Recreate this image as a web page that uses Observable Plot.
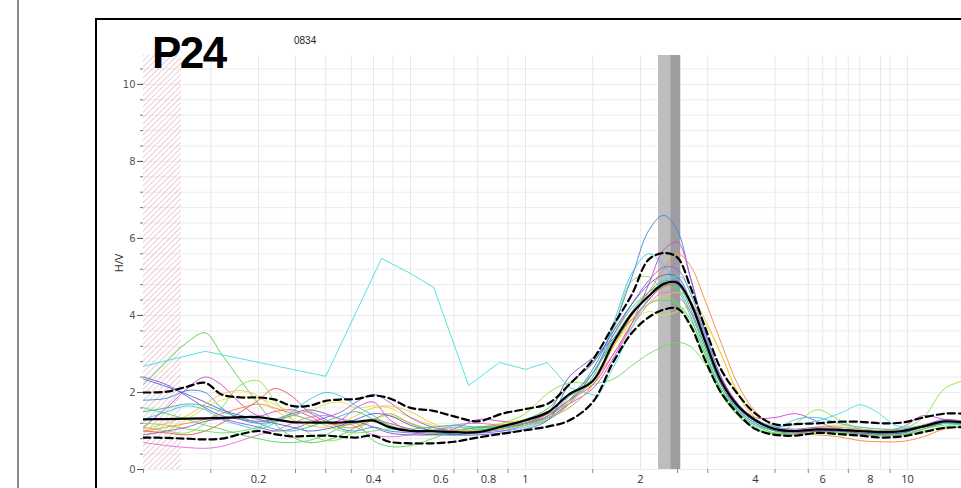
<!DOCTYPE html>
<html><head><meta charset="utf-8">
<script src="https://cdn.jsdelivr.net/npm/d3@7"></script>
<script src="https://cdn.jsdelivr.net/npm/@observablehq/plot@0.6"></script>
<style>
html,body{margin:0;padding:0;background:#fff;overflow:hidden;}
#wrap{position:relative;width:961px;height:488px;overflow:hidden;}
#wrap svg{position:absolute;left:0;top:0;}
#frame{position:absolute;left:95px;top:18px;width:1000px;height:600px;border-left:2px solid #000;border-top:2px solid #000;pointer-events:none;}
#leftbar{position:absolute;left:17px;top:0;width:2px;height:488px;background:#8a8a8a;}
</style></head><body><div id="wrap"></div>
<script>
// ---- data ----
const freq = [0.1,0.115,0.13,0.145,0.16,0.18,0.2,0.22,0.245,0.27,0.3,0.33,0.36,0.4,0.44,0.5,0.57,0.65,0.75,0.87,1.0,1.15,1.3,1.5,1.7,1.9,2.1,2.3,2.5,2.7,2.95,3.25,3.6,4.0,4.5,5.1,5.8,6.6,7.5,8.5,9.7,11,12.5,14];
const meanHV = [1.3,1.31,1.32,1.33,1.34,1.36,1.36,1.3,1.23,1.22,1.22,1.22,1.24,1.27,1.1,1.0,1.0,0.97,0.97,1.12,1.28,1.5,1.95,2.3,3.3,4.05,4.5,4.82,4.85,4.35,3.35,2.3,1.65,1.28,1.05,1.0,1.04,1.03,1.0,0.97,1.0,1.12,1.25,1.22];
const upperHV = [2.0,2.02,2.15,2.25,1.95,1.87,1.87,1.82,1.65,1.65,1.78,1.82,1.83,1.92,1.85,1.6,1.53,1.38,1.25,1.45,1.57,1.72,2.2,2.85,3.75,4.55,5.45,5.62,5.5,4.75,3.7,2.6,1.95,1.45,1.17,1.18,1.2,1.24,1.24,1.2,1.22,1.35,1.45,1.45];
const lowerHV = [0.83,0.82,0.8,0.78,0.8,0.92,1.0,0.92,0.86,0.87,0.88,0.85,0.83,0.88,0.72,0.68,0.68,0.72,0.83,0.93,1.02,1.12,1.27,1.75,2.8,3.55,3.95,4.15,4.18,3.75,2.85,2.0,1.45,1.05,0.9,0.88,0.95,0.92,0.88,0.83,0.86,0.97,1.08,1.1];

const wGreen = [2.2,2.8,3.3,3.55,3.0,2.3,1.7,1.2,0.85,0.7,0.75,0.9,1.1,1.3,1.15,1.0,0.95,0.9,1.0,1.15,1.3,1.6,2.2,2.8,3.5,4.2,4.6,4.8,4.7,4.1,3.1,2.1,1.5,1.15,0.95,0.95,1.0,1.0,0.98,0.95,1.0,1.15,1.25,1.2];
const wLime = [1.1,1.0,0.95,1.2,1.6,2.2,2.3,1.8,1.3,0.95,0.75,0.8,1.0,1.3,1.4,1.2,1.05,1.0,1.05,1.2,1.45,2.0,2.25,2.3,3.6,4.9,5.0,4.6,4.3,3.8,2.9,1.95,1.4,1.05,0.95,1.2,1.55,1.3,1.05,1.0,1.05,1.35,2.1,2.3];
const wBlue = [1.8,1.85,2.05,2.0,1.6,1.3,1.2,1.25,1.4,1.5,1.3,1.05,1.0,1.1,1.0,0.95,0.9,0.9,0.95,1.05,1.2,1.4,1.8,2.6,3.7,5.0,6.2,6.6,6.2,5.0,3.6,2.4,1.65,1.25,1.05,1.0,1.05,1.05,1.0,0.95,0.98,1.1,1.2,1.2];
const wMagenta = [1.1,1.6,2.1,2.4,2.2,1.7,1.4,1.5,1.55,1.4,1.2,1.3,1.6,1.75,1.3,1.0,0.95,1.05,1.3,1.25,1.2,1.35,1.7,2.1,2.9,3.8,4.8,5.7,5.9,5.0,3.6,2.4,1.7,1.35,1.35,1.45,1.25,1.05,1.0,1.0,1.1,1.4,1.3,1.25];
const wOrange = [1.0,1.1,1.2,1.3,1.45,1.6,1.7,1.6,1.45,1.3,1.2,1.1,1.1,1.3,1.45,1.2,1.0,0.95,1.0,1.1,1.2,1.35,1.6,2.2,3.2,4.0,4.6,5.2,5.6,5.3,4.4,3.3,2.2,1.5,1.1,0.95,0.9,0.85,0.75,0.72,0.73,0.85,1.05,1.1];
const wYellow = [0.9,1.0,1.3,1.6,1.8,1.9,1.85,1.7,1.5,1.5,1.7,1.75,1.6,1.65,1.6,1.35,1.15,1.0,1.1,1.2,1.3,1.45,1.8,2.4,3.2,3.8,4.1,4.0,4.1,4.2,3.8,3.0,1.95,1.3,1.05,1.0,1.1,1.15,1.1,1.05,1.05,1.15,1.2,1.2];
const wPurple = [2.4,2.2,1.9,1.6,1.4,1.3,1.25,1.3,1.45,1.55,1.45,1.3,1.25,1.1,0.95,0.9,0.9,0.95,1.0,1.05,1.2,1.5,2.4,2.9,3.4,3.9,4.4,4.8,4.9,4.3,3.3,2.2,1.55,1.2,1.0,0.95,1.0,1.0,0.95,0.92,0.95,1.1,1.2,1.2];
const wRed = [1.0,0.95,0.9,1.0,1.2,1.5,1.8,2.1,1.9,1.5,1.25,1.15,1.2,1.3,1.2,1.05,0.95,1.0,1.1,1.15,1.25,1.45,1.8,2.2,3.0,3.8,4.4,4.75,4.8,4.4,3.5,2.4,1.7,1.3,1.05,0.98,1.0,0.98,0.92,0.88,0.9,1.05,1.2,1.22];
const wSky = [1.3,1.5,1.65,1.55,1.3,1.15,1.05,1.2,1.5,1.8,2.0,1.9,1.65,1.4,1.15,1.0,1.0,1.1,1.05,1.0,1.1,1.3,1.7,2.4,3.8,5.1,5.6,5.3,4.7,4.0,3.0,2.1,1.5,1.15,1.05,1.3,1.35,1.2,1.1,1.05,1.05,1.15,1.2,1.15];
const wPink = [0.7,0.62,0.57,0.55,0.6,0.75,0.9,1.0,1.2,1.35,1.4,1.3,1.1,0.9,0.85,0.9,1.0,1.15,1.2,1.15,1.2,1.4,1.8,2.3,3.0,3.7,4.3,4.6,4.5,4.1,3.2,2.2,1.6,1.25,1.05,1.0,1.05,1.05,1.0,0.95,1.0,1.15,1.25,1.2];
const wGreen2 = [1.6,1.45,1.3,1.15,1.05,0.9,0.8,0.72,0.7,0.75,0.9,1.1,1.2,0.75,0.6,0.62,0.8,1.0,1.1,1.1,1.15,1.3,1.7,2.5,3.3,3.9,4.3,4.4,4.3,3.9,3.0,2.0,1.4,1.05,0.92,0.9,0.95,0.95,0.9,0.88,0.9,1.0,1.1,1.1];
const wGreen3 = [1.2,1.15,1.05,1.0,0.95,1.0,1.1,1.25,1.4,1.3,1.15,1.0,0.95,1.0,1.05,1.0,0.95,0.95,1.05,1.15,1.25,1.5,1.9,2.2,2.35,2.7,3.0,3.2,3.3,3.2,2.75,2.1,1.5,1.1,0.92,0.92,0.95,0.97,0.95,0.9,0.92,1.05,1.15,1.15];
const wViolet = [0.9,1.0,1.1,1.25,1.3,1.2,1.1,1.0,1.05,1.2,1.35,1.5,1.75,1.95,1.75,1.35,1.1,1.0,0.95,1.0,1.15,1.35,1.75,2.5,3.5,4.3,4.9,5.25,5.2,4.6,3.5,2.4,1.7,1.3,1.1,1.05,1.1,1.1,1.05,1.0,1.0,1.15,1.3,1.25];
const wNavy = [2.35,2.15,1.95,1.75,1.55,1.4,1.3,1.2,1.1,1.0,1.05,1.15,1.3,1.45,1.4,1.15,1.0,0.9,0.9,0.95,1.05,1.3,2.2,2.75,3.6,4.3,4.8,5.05,5.0,4.4,3.4,2.3,1.6,1.25,1.05,1.0,1.0,1.0,0.95,0.92,0.95,1.1,1.2,1.2];
const wGold = [1.05,1.2,1.4,1.7,1.95,2.05,1.9,1.55,1.3,1.15,1.1,1.2,1.4,1.6,1.65,1.5,1.2,1.05,1.0,1.05,1.15,1.35,1.75,2.3,3.2,3.9,4.3,4.5,4.6,4.5,3.9,3.0,2.0,1.35,1.05,1.0,1.05,1.1,1.05,1.0,1.02,1.15,1.25,1.25];
const wTeal = [1.5,1.6,1.7,1.65,1.5,1.35,1.2,1.05,1.0,1.1,1.25,1.4,1.5,1.3,1.1,1.05,1.1,1.15,1.1,1.1,1.2,1.4,1.9,2.5,3.4,4.1,4.6,4.9,4.8,4.2,3.2,2.2,1.55,1.2,1.0,1.0,1.05,1.05,1.0,0.97,1.0,1.1,1.2,1.18];

// outlier window: sparse straight segments at low frequency, smooth above
const cyanFreqLow = [0.1,0.145,0.3,0.42,0.5,0.575,0.71,0.855,1.0,1.14,1.3,1.55];
const cyanHVLow = [2.68,3.07,2.42,5.48,5.09,4.73,2.18,2.78,2.6,2.78,2.13,1.9];
const cyanFreqHigh = [1.55,1.75,1.95,2.15,2.35,2.55,2.75,3.0,3.3,3.6,4.0,4.5,5.2,6.0,6.8,7.5,8.3,9.3,10.5,12,14];
const cyanHVHigh = [1.9,2.9,3.9,4.6,4.95,5.0,4.4,3.3,2.2,1.6,1.3,1.12,1.18,1.3,1.5,1.68,1.5,1.15,1.1,1.2,1.15];

const windows = [wGreen,wLime,wBlue,wMagenta,wOrange,wYellow,wPurple,wRed,wSky,wPink,wGreen2,wGreen3,wViolet,wNavy,wGold,wTeal];
const windowColors = ["#4fcf3f","#86e046","#3a86d8","#d23fd2","#ef8a3a","#e3e032","#7b52d3","#e05252","#33c4ea","#e06fd6","#52d852","#6ade5a","#9a58de","#4a64cf","#f2c23c","#2fb7a5"];

const minValidFreq = [{x1: 0.1, x2: 0.1257}];
const f0Low = [{x1: 2.23, x2: 2.40}];
const f0High = [{x1: 2.40, x2: 2.55}];

const yMajor = [0,2,4,6,8,10];
const yMinor = d3.range(0, 10.75, 0.4);
const xLabels = [0.2,0.4,0.6,0.8,1,2,4,6,8,10];
const xMinor = [0.1,0.15,0.25,0.3,0.35,0.45,0.65,0.75,0.9,1.5,2.5,3,4.5,5.5,7,9];
const xGrid = [0.15,0.2,0.25,0.3,0.35,0.4,0.45,0.5,0.65,0.75,0.9,1,1.5,2,3,4.5,5.5,6,6.5,7,7.5,8.5,9,10];

// ---- chart ----
const lineOf = (xs, ys, opts) => Plot.line(xs, {x: d => d, y: (d, j) => ys[j], curve: "catmull-rom", clip: true, ...opts});

const svg = Plot.plot({
  width: 961, height: 488,
  marginLeft: 143, marginRight: 0, marginTop: 55, marginBottom: 19,
  style: {background: "transparent", fontFamily: "'Open Sans', 'DejaVu Sans', sans-serif", color: "#333"},
  x: {type: "log", domain: [0.1, 13.85]},
  y: {domain: [0, 10.75]},
  marks: [
    Plot.gridY(yMinor, {stroke: "#ececec", strokeOpacity: 1}),
    Plot.gridX(xGrid, {stroke: "#e8e8e8", strokeOpacity: 1}),
    Plot.rect(minValidFreq, {x1: "x1", x2: "x2", fill: "url(#hatch)"}),
    Plot.rect(f0Low, {x1: "x1", x2: "x2", fill: "#bdbdbd"}),
    Plot.rect(f0High, {x1: "x1", x2: "x2", fill: "#9d9da1"}),
    ...windows.map((w, i) => lineOf(freq, w, {stroke: windowColors[i], strokeWidth: 0.9})),
    lineOf(cyanFreqLow, cyanHVLow, {stroke: "#3fe0df", strokeWidth: 0.9, curve: "linear"}),
    lineOf(cyanFreqHigh, cyanHVHigh, {stroke: "#3fe0df", strokeWidth: 0.9}),
    lineOf(freq, lowerHV, {stroke: "#000", strokeWidth: 2.2, strokeDasharray: "7,4"}),
    lineOf(freq, upperHV, {stroke: "#000", strokeWidth: 2.2, strokeDasharray: "7,4"}),
    lineOf(freq, meanHV, {stroke: "#000", strokeWidth: 2.2}),
    Plot.axisY(yMinor, {tickSize: 3, tickFormat: () => "", label: null, color: "#777"}),
    Plot.axisY(yMajor, {tickSize: 6, tickPadding: 2, fontSize: 10, label: null, color: "#555", tickFormat: d => String(d), fontFamily: "'DejaVu Sans', sans-serif"}),
    Plot.axisX(xMinor, {tickSize: 4, tickFormat: () => "", label: null, color: "#888"}),
    Plot.text(xLabels, {x: d => d, text: d => String(d), frameAnchor: "bottom", lineAnchor: "top", dy: 6, fontSize: 11, fill: "#333"})
  ]
});

const s = d3.select(svg);
const defs = s.insert("defs", ":first-child");
const pat = defs.append("pattern").attr("id", "hatch").attr("patternUnits", "userSpaceOnUse")
  .attr("width", 4).attr("height", 4).attr("patternTransform", "rotate(45)");
pat.append("line").attr("x1", 0).attr("y1", 0).attr("x2", 0).attr("y2", 4)
  .attr("stroke", "#d49ca9").attr("stroke-width", 1);

s.append("text").attr("x", 152).attr("y", 68).attr("text-anchor", "start").text("P24")
  .attr("font-family", "'Liberation Sans', Arial, sans-serif").attr("font-weight", "bold")
  .attr("font-size", 44).attr("letter-spacing", -1.5).attr("fill", "#000");
s.append("text").attr("x", 294).attr("y", 44).attr("text-anchor", "start").text("0834")
  .attr("font-family", "'Liberation Sans', Arial, sans-serif").attr("font-size", 10).attr("fill", "#222");
s.append("text").attr("transform", "translate(123,263) rotate(-90)").attr("text-anchor", "middle")
  .text("H/V").attr("font-family", "'Open Sans', sans-serif").attr("font-size", 11).attr("fill", "#333");

const wrap = document.getElementById("wrap");
wrap.appendChild(svg);
const lb = document.createElement("div"); lb.id = "leftbar"; wrap.appendChild(lb);
const fr = document.createElement("div"); fr.id = "frame"; wrap.appendChild(fr);
</script>
</body></html>
